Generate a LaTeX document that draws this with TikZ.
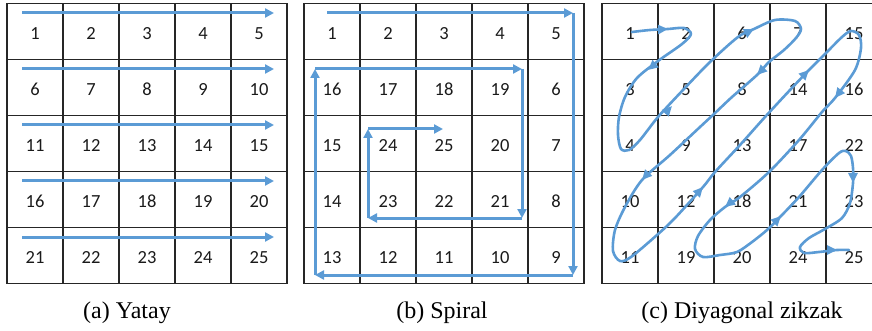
\documentclass[tikz,border=0pt]{standalone}
\usepackage{fontspec}
\newfontfamily\numfont{Carlito}
\newfontfamily\capfont{Liberation Serif}
\usetikzlibrary{arrows.meta}
\definecolor{flowblue}{HTML}{5B9BD5}
\definecolor{numgray}{HTML}{1A1A1A}
\tikzset{
  gridline/.style={draw=black!85, line width=1.2pt, line cap=rect},
  num/.style={font=\numfont\fontsize{18.5}{18.5}\selectfont, text=numgray, inner sep=0pt},
  captext/.style={font=\capfont\fontsize{24}{24}\selectfont, inner sep=0pt, anchor=base},
  flow/.style={draw=flowblue, line width=3pt, -{Triangle[length=9pt,width=9pt]}},
  zz/.style={draw=flowblue, line width=2.6pt, line cap=round, line join=round},
  zzhead/.style={draw=flowblue, line width=2.6pt, line cap=butt, -{Triangle[length=10pt,width=9pt]}}
}
\newcommand\zzarr[2]{\draw[zzhead] (#1) ++(#2+180:10) -- ++(#2:10);}
\begin{document}
\begin{tikzpicture}[x=1pt,y=-1pt]
\useasboundingbox (0,0) rectangle (872,331);
% grids
\foreach \gx in {7,304,602}{
  \foreach \k in {0,...,5}{
    \draw[gridline] ({\gx+56*\k},3.5) -- ({\gx+56*\k},283.5);
    \draw[gridline] (\gx,{3.5+56*\k}) -- ({\gx+280},{3.5+56*\k});
  }
}
% numbers (a)
\foreach \lab [count=\i from 0] in {1,2,3,4,5,6,7,8,9,10,11,12,13,14,15,16,17,18,19,20,21,22,23,24,25}{
  \pgfmathtruncatemacro\cc{mod(\i,5)}
  \pgfmathtruncatemacro\rr{div(\i,5)}
  \node[num] (a\lab) at ({35+56*\cc},{33.5+56*\rr}) {\lab};
}
% numbers (b)
\foreach \lab [count=\i from 0] in {1,2,3,4,5,16,17,18,19,6,15,24,25,20,7,14,23,22,21,8,13,12,11,10,9}{
  \pgfmathtruncatemacro\cc{mod(\i,5)}
  \pgfmathtruncatemacro\rr{div(\i,5)}
  \node[num] (b\lab) at ({332+56*\cc},{33.5+56*\rr}) {\lab};
}
% numbers (c)
\foreach \lab [count=\i from 0] in {1,2,6,7,15,3,5,8,14,16,4,9,13,17,22,10,12,18,21,23,11,19,20,24,25}{
  \pgfmathtruncatemacro\cc{mod(\i,5)}
  \pgfmathtruncatemacro\rr{div(\i,5)}
  \node[num] (c\lab) at ({630+56*\cc},{33.5+56*\rr}) {\lab};
}
% (a) horizontal arrows
\foreach \rr in {0,...,4}{
  \coordinate (as\rr) at (22,{13+56*\rr});
  \coordinate (ae\rr) at (274,{13+56*\rr});
  \draw[flow] (as\rr) -- (ae\rr);
}
% (b) spiral
\coordinate (s0) at (327,13);
\coordinate (s1) at (573,13);
\coordinate (s2) at (573,275);
\coordinate (s3) at (315,275);
\coordinate (s4) at (315,69);
\coordinate (s5) at (522,69);
\coordinate (s6) at (522,218);
\coordinate (s7) at (368,218);
\coordinate (s8) at (368,129);
\coordinate (s9) at (443,129);
\draw[flow] (s0) -- (s1);
\draw[flow] (s1) -- (s2);
\draw[flow] (s2) -- (s3);
\draw[flow] (s3) -- (s4);
\draw[flow] (s4) -- (s5);
\draw[flow] (s5) -- (s6);
\draw[flow] (s6) -- (s7);
\draw[flow] (s7) -- (s8);
\draw[flow] (s8) -- (s9);
% (c) diagonal zigzag
\draw[zz] plot[smooth, tension=0.5] coordinates {
 (632,32) (650,30) (668,29) (684,28) (691,34) (682,44) (658,61) (637,78) (625,97)
 (619,117) (618,135) (621,149) (629,150) (640,140) (658,117) (683,90) (710,62)
 (738,37) (754,29) (775,20) (795,21) (801,29) (796,38) (784,50) (769,62) (757,75)
 (732,97) (714,114) (700,127) (670,155) (642,180) (625,207) (615,230) (613,251)
 (620,261) (631,257) (657,235) (675,218) (703,187) (715,172) (740,145) (765,117)
 (790,90) (809,70) (825,54) (842,37) (851,31) (859,35) (861,48) (855,70) (835,98)
 (822,112) (799,140) (769,172) (740,197) (725,207) (710,220) (698,236) (695,249)
 (703,257) (720,255) (737,252) (752,242) (767,230) (781,216) (799,197) (822,170)
 (839,153) (846,151) (851,156) (853,168) (853,183) (850,203) (842,218) (825,229)
 (809,238) (800,247) (804,253) (819,252) (837,250) (849,250)
};
\zzarr{668,29}{-3}
\zzarr{648,70}{140}
\zzarr{672,106}{-47}
\zzarr{754,29}{-27}
\zzarr{757,75}{135}
\zzarr{642,180}{132}
\zzarr{703,187}{-48}
\zzarr{809,70}{-45}
\zzarr{835,98}{128}
\zzarr{725,207}{141}
\zzarr{781,216}{-45}
\zzarr{853,183}{90}
\zzarr{837,250}{0}
% captions
\node[captext] (capa) at (127,318) {(a) Yatay};
\node[captext] (capb) at (442,318) {(b) Spiral};
\node[captext] (capc) at (742,318) {(c) Diyagonal zikzak};
\end{tikzpicture}
\end{document}
